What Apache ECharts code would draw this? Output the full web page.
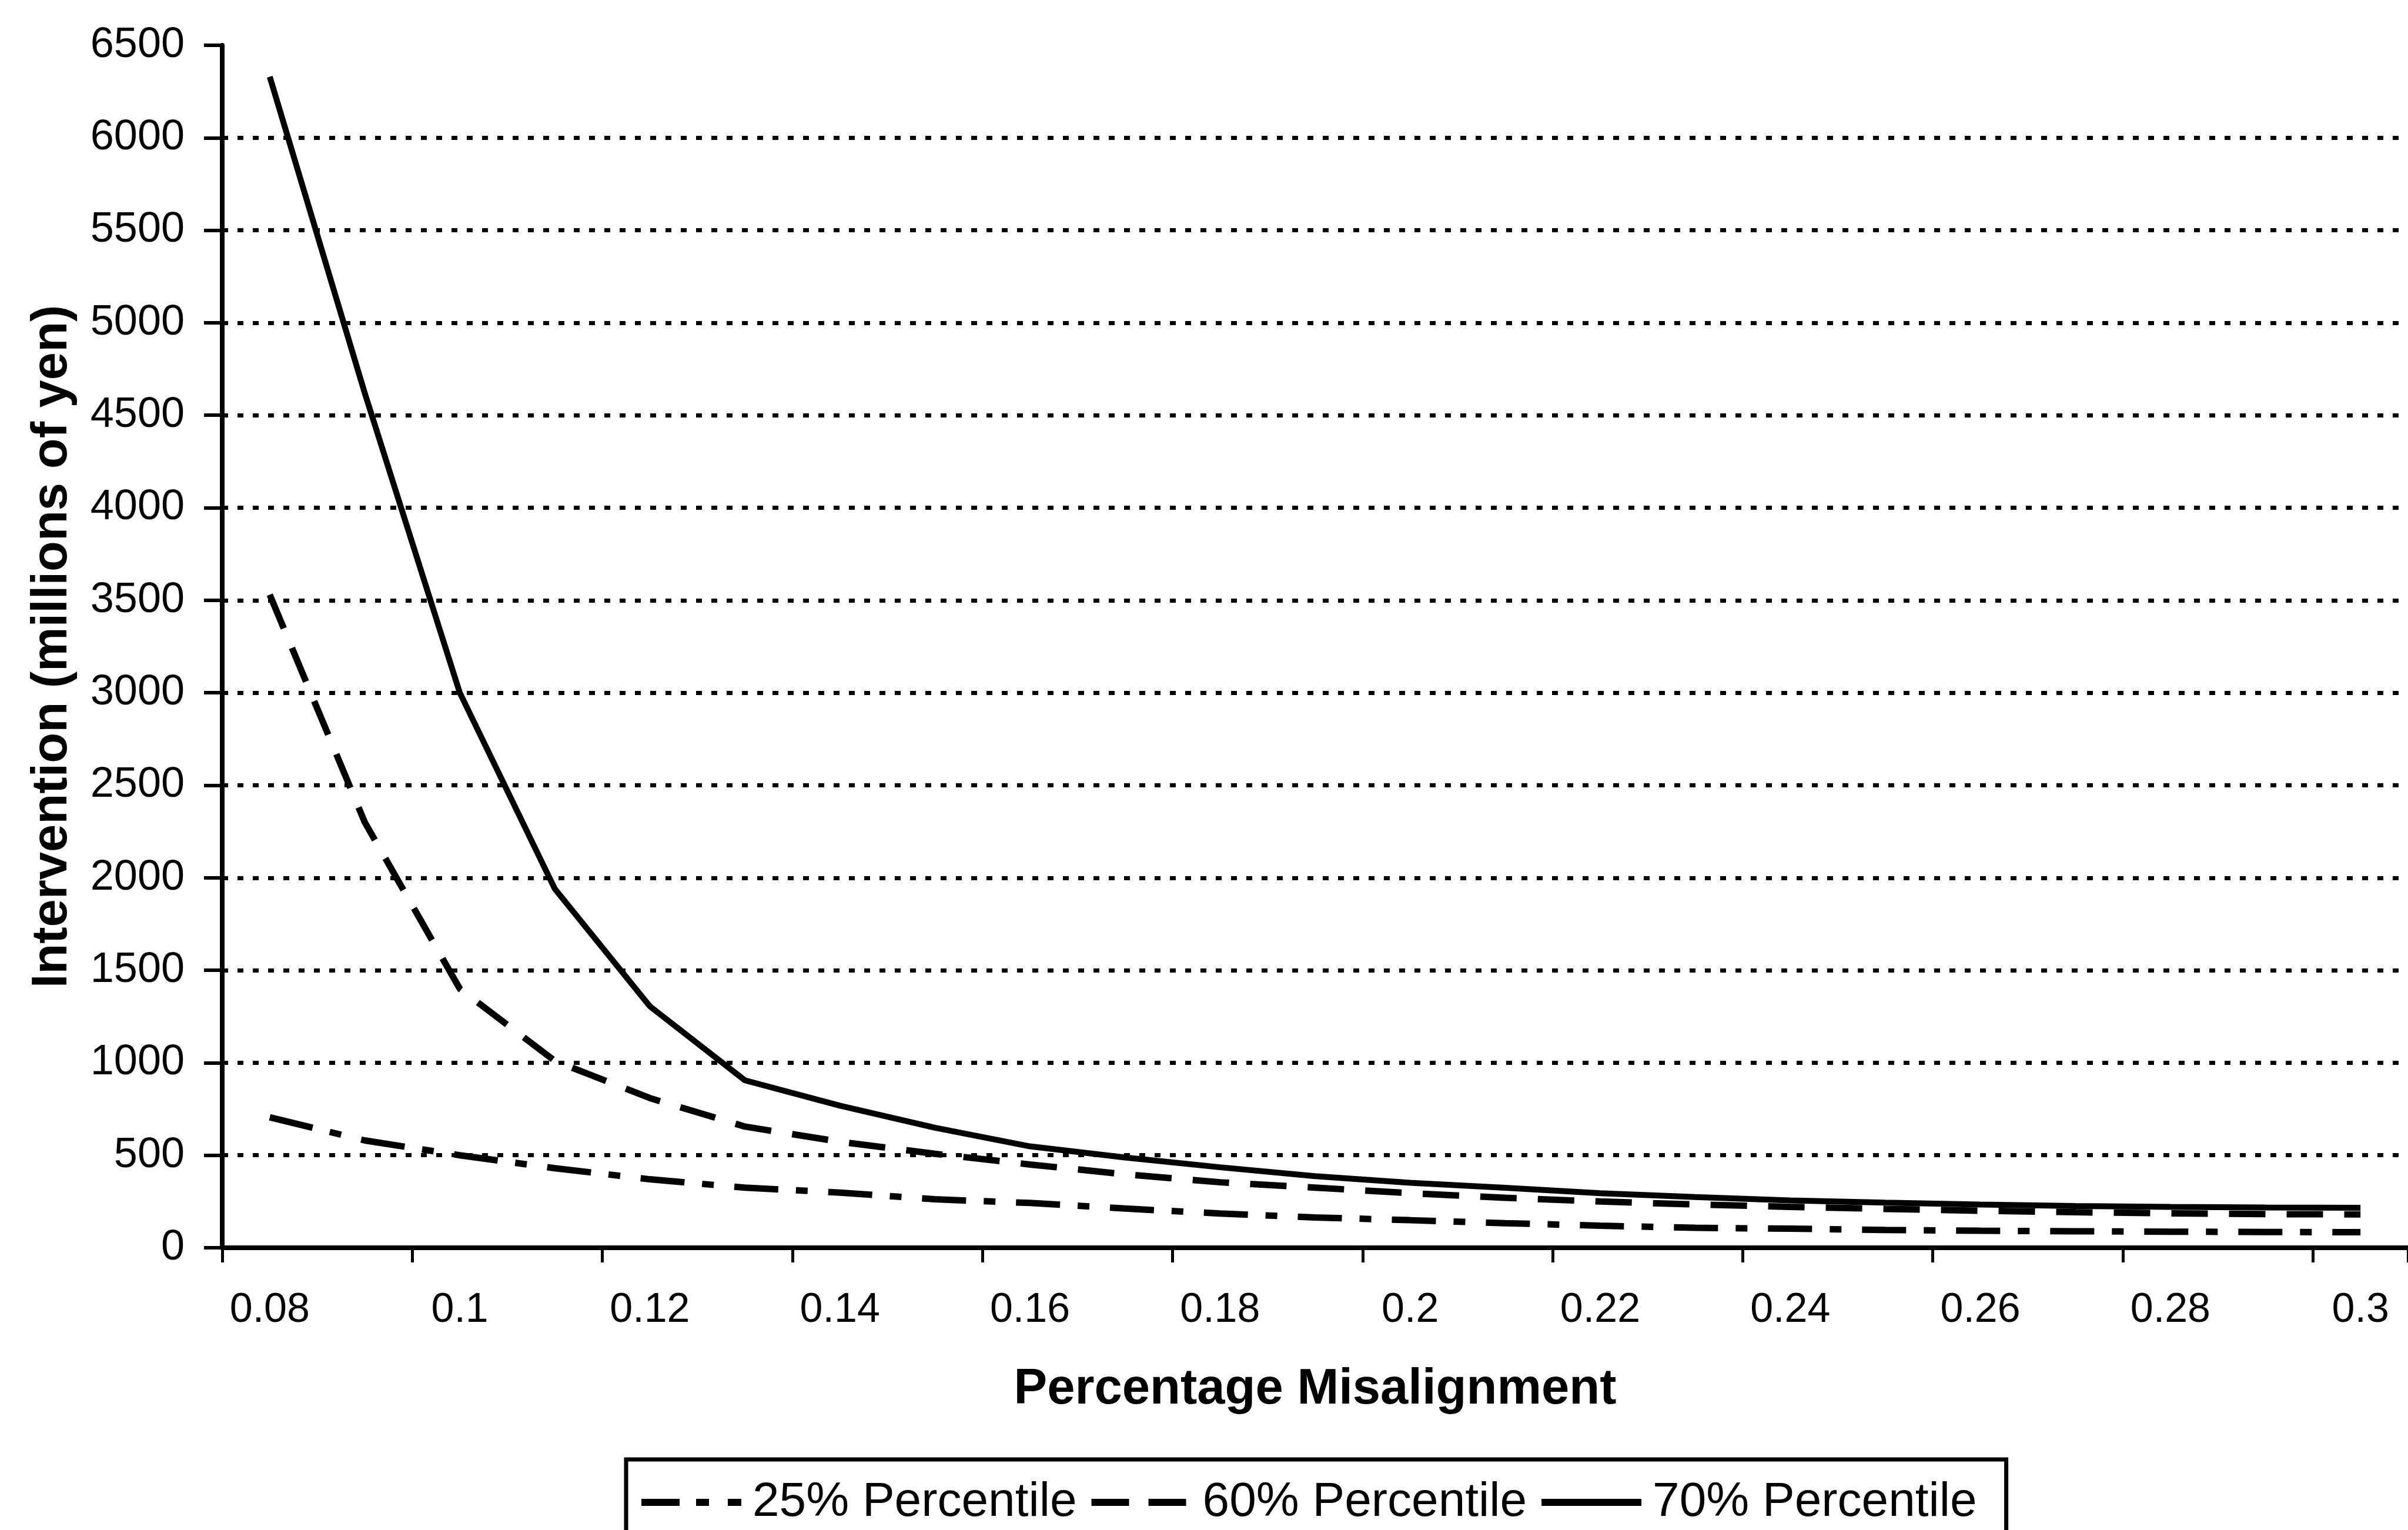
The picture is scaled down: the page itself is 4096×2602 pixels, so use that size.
<!DOCTYPE html>
<html>
<head>
<meta charset="utf-8">
<script src="https://cdn.jsdelivr.net/npm/echarts@6.0.0/dist/echarts.min.js"></script>
<style>
  html, body { margin: 0; padding: 0; background: #fff; }
  #chart { width: 4096px; height: 2602px; }
</style>
</head>
<body>
<div id="chart"></div>
<script>
// percentage misalignment categories (0.08 .. 0.30)
const categories = ['0.08', '0.09', '0.1', '0.11', '0.12', '0.13', '0.14', '0.15', '0.16', '0.17', '0.18', '0.19',
  '0.2', '0.21', '0.22', '0.23', '0.24', '0.25', '0.26', '0.27', '0.28', '0.29', '0.3'];
// intervention, millions of yen
const p25 = [705, 580, 500, 430, 370, 325, 298, 262, 242, 212, 185, 164, 149, 133, 119, 108, 103, 96, 92, 89, 87, 85, 84];
const p60 = [3530, 2300, 1400, 1010, 809, 655, 573, 508, 450, 397, 354, 325, 295, 270, 250, 234, 221, 210, 200, 192, 186, 182, 180];
const p70 = [6330, 4620, 3000, 1940, 1305, 905, 768, 649, 548, 488, 435, 387, 351, 324, 295, 274, 256, 244, 234, 226, 221, 218, 216];
const seriesNames = ['25% Percentile', '60% Percentile', '70% Percentile'];

const font = "'Liberation Sans', Arial, Helvetica, sans-serif";

const chart = echarts.init(document.getElementById('chart'), null, { renderer: 'canvas' });

const option = {
  backgroundColor: '#fff',
  animation: false,
  grid: { left: 378, right: 0, top: 77, bottom: 480, containLabel: false },
  legend: {
    left: 1065,
    top: 2482,
    orient: 'horizontal',
    data: [
      { name: seriesNames[0], lineStyle: { type: [65, 28, 22, 32, 25, 100] } },
      { name: seriesNames[1], lineStyle: { type: [64, 33] } },
      { name: seriesNames[2], lineStyle: { type: 'solid' } }
    ],
    itemWidth: 170,
    itemHeight: 30,
    itemGap: 19,
    padding: [31, 50, 40, 20],
    backgroundColor: '#fff',
    borderColor: '#000',
    borderWidth: 7,
    lineStyle: { width: 12, color: '#000' },
    itemStyle: { color: 'transparent', borderColor: 'transparent', borderWidth: 0 },
    textStyle: { fontFamily: font, fontSize: 82, color: '#000', lineHeight: 84, padding: [0, 0, 0, 14] }
  },
  xAxis: {
    type: 'category',
    data: categories,
    boundaryGap: true,
    name: 'Percentage Misalignment',
    nameLocation: 'middle',
    nameGap: 199,
    nameTextStyle: { fontFamily: font, fontSize: 85, fontWeight: 'bold', color: '#000' },
    axisLine: { show: true, lineStyle: { color: '#000', width: 8 } },
    axisTick: { show: true, interval: 1, length: 25, lineStyle: { color: '#000', width: 5 } },
    axisLabel: { interval: 1, margin: 72, fontFamily: font, fontSize: 70, color: '#000' },
    splitLine: { show: false }
  },
  yAxis: {
    type: 'value',
    min: 0,
    max: 6500,
    interval: 500,
    name: 'Intervention (millions of yen)',
    nameLocation: 'middle',
    nameGap: 246,
    nameTextStyle: { fontFamily: font, fontSize: 85, fontWeight: 'bold', color: '#000' },
    axisLine: { show: true, lineStyle: { color: '#000', width: 8 } },
    axisTick: { show: true, length: 31, lineStyle: { color: '#000', width: 6 } },
    axisLabel: {
      margin: 64, fontFamily: font, fontSize: 72, color: '#000',
      formatter: function (value) { return String(value); }
    },
    splitLine: {
      show: true,
      showMinLine: false,
      showMaxLine: false,
      lineStyle: { color: '#000', width: 7, type: [10, 16] }
    }
  },
  series: [
    {
      name: seriesNames[0],
      type: 'line',
      data: p25,
      symbol: 'none',
      lineStyle: { color: '#000', width: 11, type: [75, 30, 20, 35] },
      itemStyle: { color: '#000' }
    },
    {
      name: seriesNames[1],
      type: 'line',
      data: p60,
      symbol: 'none',
      lineStyle: { color: '#000', width: 11, type: [62, 36] },
      itemStyle: { color: '#000' }
    },
    {
      name: seriesNames[2],
      type: 'line',
      data: p70,
      symbol: 'none',
      lineStyle: { color: '#000', width: 10, type: 'solid' },
      itemStyle: { color: '#000' }
    }
  ]
};

chart.setOption(option);
</script>
</body>
</html>
